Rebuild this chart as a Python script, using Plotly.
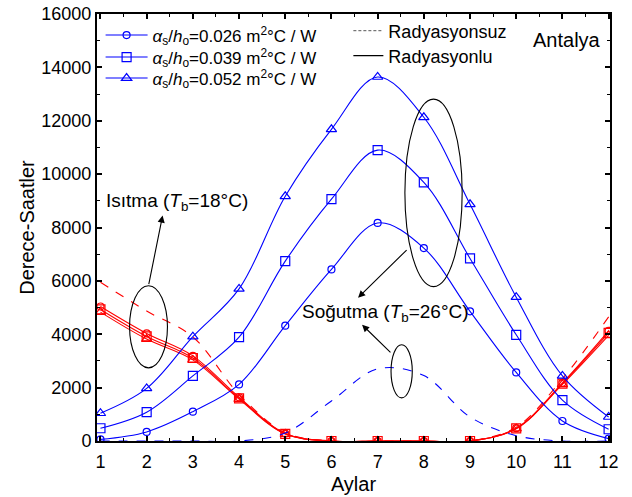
import plotly.graph_objects as go

months = [1, 2, 3, 4, 5, 6, 7, 8, 9, 10, 11, 12]

# Cooling degree-hours (blue) with radiation
cool_026 = [60, 340, 1100, 2120, 4320, 6430, 8170, 7230, 4860, 2570, 750, 90]
cool_039 = [477, 1080, 2440, 3890, 6740, 9060, 10900, 9690, 6840, 3980, 1530, 440]
cool_052 = [1040, 1970, 3910, 5700, 9170, 11680, 13640, 12130, 8870, 5390, 2440, 900]
# Cooling without radiation
cool_norad = [0, 0, 0, 0, 300, 1500, 2700, 2450, 900, 200, 0, 0]

# Heating degree-hours (red) with radiation
heat_026 = [5040, 4030, 3190, 1640, 280, 0, 0, 0, 0, 480, 2180, 4130]
heat_039 = [4930, 3920, 3110, 1600, 270, 0, 0, 0, 0, 470, 2150, 4050]
heat_052 = [4830, 3820, 3040, 1570, 260, 0, 0, 0, 0, 460, 2120, 3960]
# Heating without radiation
heat_norad = [5950, 4870, 3900, 1750, 310, 0, 0, 0, 0, 520, 2330, 4650]

names = ["<i>α</i><sub>s</sub>/<i>h</i><sub>o</sub>=0.026 m<sup>2</sup>°C / W",
         "<i>α</i><sub>s</sub>/<i>h</i><sub>o</sub>=0.039 m<sup>2</sup>°C / W",
         "<i>α</i><sub>s</sub>/<i>h</i><sub>o</sub>=0.052 m<sup>2</sup>°C / W"]
style_names = ["Radyasyonsuz", "Radyasyonlu"]
symbols = ["circle-open", "square-open", "triangle-up-open"]
msizes = [7, 9, 9]

BLUE = "#0000FF"
RED = "#FF0000"
FONT = "Arial, 'Liberation Sans', sans-serif"

fig = go.Figure()

# heating curves (red)
fig.add_trace(go.Scatter(x=months, y=heat_norad, mode="lines", line=dict(color=RED, width=1.1, dash="dash", shape="spline"),
                         showlegend=False, hoverinfo="skip"))
for ys, sym, ms in zip([heat_026, heat_039, heat_052], symbols, msizes):
    fig.add_trace(go.Scatter(x=months, y=ys, mode="lines+markers",
                             line=dict(color=RED, width=1.1, shape="spline"),
                             marker=dict(symbol=sym, size=ms, color=RED, line=dict(width=1.2, color=RED)),
                             showlegend=False))

# cooling curves (blue)
fig.add_trace(go.Scatter(x=months, y=cool_norad, mode="lines", line=dict(color=BLUE, width=1.1, dash="dash", shape="spline"),
                         showlegend=False, hoverinfo="skip"))
left_legends = ["legend", "legend3", "legend4"]
for ys, sym, ms, nm, lg in zip([cool_026, cool_039, cool_052], symbols, msizes, names, left_legends):
    fig.add_trace(go.Scatter(x=months, y=ys, mode="lines+markers", name=nm,
                             line=dict(color=BLUE, width=1.1, shape="spline"),
                             marker=dict(symbol=sym, size=ms, color=BLUE, line=dict(width=1.2, color=BLUE)),
                             legend=lg))

# legend-only entries for line styles
fig.add_trace(go.Scatter(x=[None], y=[None], mode="lines", name=style_names[0],
                         line=dict(color="#555555", width=1, dash="3px,2px"), legend="legend2"))
fig.add_trace(go.Scatter(x=[None], y=[None], mode="lines", name=style_names[1],
                         line=dict(color="black", width=1.2), legend="legend5"))

# ellipses
ell = [
    (1.63, 2740, 2.45, 5820),
    (7.59, 5785, 8.83, 12810),
    (7.29, 1615, 7.75, 3605),
]
for x0, y0, x1, y1 in ell:
    fig.add_shape(type="circle", xref="x", yref="y", x0=x0, x1=x1, y0=y0, y1=y1,
                  line=dict(color="black", width=1.1))

# arrows (head, tail)
arrows = [
    ((2.345, 8450), (2.04, 5820)),
    ((6.576, 5370), (7.66, 7210)),
    ((6.663, 4357), (7.31, 3268)),
]
for (hx, hy), (tx, ty) in arrows:
    fig.add_annotation(x=hx, y=hy, ax=tx, ay=ty, xref="x", yref="y", axref="x", ayref="y",
                       showarrow=True, arrowhead=2, arrowsize=1.3, arrowwidth=1.1, arrowcolor="black", text="")

fig.add_annotation(x=2.65, y=8940, xref="x", yref="y", showarrow=False,
                   text="Isıtma (<i>T</i><sub>b</sub>=18°C)", font=dict(size=19, color="black", family=FONT))
fig.add_annotation(x=7.16, y=4810, xref="x", yref="y", showarrow=False,
                   text="Soğutma (<i>T</i><sub>b</sub>=26°C)", font=dict(size=19, color="black", family=FONT))
fig.add_annotation(x=11.09, y=15020, xref="x", yref="y", showarrow=False,
                   text="Antalya", font=dict(size=20, color="black", family=FONT))

axis_common = dict(showline=True, linecolor="black", linewidth=2, mirror="allticks",
                   ticks="inside", tickcolor="black", tickwidth=1.5, ticklen=5,
                   showgrid=False, zeroline=False, automargin=False,
                   tickfont=dict(size=18, color="black", family=FONT))

fig.update_xaxes(range=[0.925, 12.03], tickmode="array", tickvals=months,
                 minor=dict(dtick=0.5, tick0=0.5, ticks="inside", ticklen=3, tickcolor="black", tickwidth=1.2),
                 title=dict(text="Aylar", font=dict(size=20, color="black", family=FONT), standoff=6),
                 ticklabelstandoff=3, **axis_common)
fig.update_yaxes(range=[0, 16000], tickmode="linear", tick0=0, dtick=2000, tickformat="d",
                 minor=dict(dtick=1000, tick0=0, ticks="inside", ticklen=3, tickcolor="black", tickwidth=1.2),
                 title=dict(text="Derece-Saatler", font=dict(size=20, color="black", family=FONT), standoff=1),
                 ticklabelstandoff=0, **axis_common)

def leg(x, y, size=17, iw=40):
    return dict(x=x, y=y, xanchor="left", yanchor="middle", bgcolor="rgba(0,0,0,0)",
                font=dict(size=size, family=FONT, color="black"), itemwidth=iw,
                tracegroupgap=0, borderwidth=0)

# paper coords: x 97..610 px, y 441..14 px
fig.update_layout(
    width=632, height=497,
    margin=dict(l=97, r=22, t=14, b=56),
    paper_bgcolor="white", plot_bgcolor="white",
    font=dict(family=FONT, color="black"),
    legend=leg(0.007, (441 - 35.5) / 427, iw=42),
    legend3=leg(0.007, (441 - 57.5) / 427, iw=42),
    legend4=leg(0.007, (441 - 78.5) / 427, iw=42),
    legend2=leg(0.49, (441 - 31) / 427, size=18, iw=30),
    legend5=leg(0.49, (441 - 56) / 427, size=18, iw=30),
)

fig.write_html("out.html", post_script="document.body.style.margin='0';",
               config={"displayModeBar": False})
